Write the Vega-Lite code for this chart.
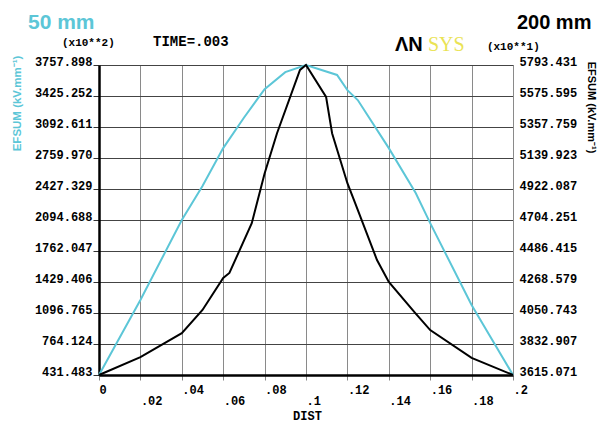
{
  "$schema": "https://vega.github.io/schema/vega-lite/v6.json",
  "width": 414,
  "height": 310,
  "autosize": {"type": "none"},
  "padding": {"left": 99, "top": 65, "right": 92, "bottom": 48},
  "background": "white",
  "config": {"view": {"stroke": "#8a8a8a", "strokeWidth": 1}, "font": "Liberation Mono"},
  "datasets": {
    "d50": [
      {"dist": 0, "efsum": 431.483},
      {"dist": 0.02, "efsum": 1236},
      {"dist": 0.04, "efsum": 2095},
      {"dist": 0.05, "efsum": 2460},
      {"dist": 0.06, "efsum": 2866},
      {"dist": 0.07, "efsum": 3192},
      {"dist": 0.08, "efsum": 3498},
      {"dist": 0.09, "efsum": 3681},
      {"dist": 0.1, "efsum": 3757.898},
      {"dist": 0.115, "efsum": 3651},
      {"dist": 0.12, "efsum": 3488},
      {"dist": 0.125, "efsum": 3382},
      {"dist": 0.14, "efsum": 2866},
      {"dist": 0.153, "efsum": 2384},
      {"dist": 0.16, "efsum": 2061},
      {"dist": 0.18, "efsum": 1183},
      {"dist": 0.2, "efsum": 431.483}
    ],
    "d200": [
      {"dist": 0, "efsum": 3615.071},
      {"dist": 0.02, "efsum": 3741},
      {"dist": 0.04, "efsum": 3909},
      {"dist": 0.05, "efsum": 4072},
      {"dist": 0.06, "efsum": 4297},
      {"dist": 0.063, "efsum": 4332},
      {"dist": 0.0738, "efsum": 4682},
      {"dist": 0.08, "efsum": 5031},
      {"dist": 0.086, "efsum": 5314},
      {"dist": 0.0971, "efsum": 5759},
      {"dist": 0.1, "efsum": 5793.431},
      {"dist": 0.1097, "efsum": 5569},
      {"dist": 0.1126, "efsum": 5314},
      {"dist": 0.12, "efsum": 4963},
      {"dist": 0.1237, "efsum": 4824},
      {"dist": 0.1343, "efsum": 4423},
      {"dist": 0.14, "efsum": 4269},
      {"dist": 0.1527, "efsum": 4051},
      {"dist": 0.16, "efsum": 3931},
      {"dist": 0.18, "efsum": 3735},
      {"dist": 0.2, "efsum": 3615.071}
    ]
  },
  "layer": [
    {
      "layer": [
        {
          "data": {"name": "d50"},
          "mark": {"type": "line", "color": "#5CC6D7", "strokeWidth": 2},
          "encoding": {
            "x": {
              "field": "dist", "type": "quantitative",
              "scale": {"domain": [0, 0.2], "nice": false, "zero": false},
              "axis": {
                "values": [0, 0.02, 0.04, 0.06, 0.08, 0.1, 0.12, 0.14, 0.16, 0.18, 0.2],
                "tickCount": 30,
                "labelExpr": "datum.value == 0 ? '0' : substring(format(datum.value, '.2~f'), 1)",
                "labelAlign": "left", "labelBaseline": "top",
                "labelPadding": {"expr": "round(datum.value*50) % 2 == 1 ? 15 : 4"},
                "labelFont": "Liberation Mono", "labelFontWeight": "bold", "labelFontSize": 12, "labelColor": "black",
                "labelOverlap": false, "labelFlush": false, "labelBound": false,
                "tickSize": 5, "tickColor": "#888", "tickWidth": 1,
                "domainColor": "black", "domainWidth": 2.5,
                "grid": true, "gridColor": "#8a8a8a", "gridWidth": 1, "gridOpacity": 1,
                "title": "DIST", "titleFont": "Liberation Mono", "titleFontWeight": "bold", "titleFontSize": 12, "titleColor": "black",
                "titleX": 208, "titleY": 44, "titleAlign": "center", "titleBaseline": "alphabetic"
              }
            },
            "y": {
              "field": "efsum", "type": "quantitative",
              "scale": {"domain": [431.483, 3757.898], "nice": false, "zero": false},
              "axis": {
                "orient": "left",
                "values": [431.483, 764.124, 1096.765, 1429.406, 1762.047, 2094.688, 2427.329, 2759.970, 3092.611, 3425.252, 3757.898],
                "tickCount": 30,
                "format": ".3f",
                "labelFont": "Liberation Mono", "labelFontWeight": "bold", "labelFontSize": 12, "labelColor": "black",
                "labelBaseline": "alphabetic", "labelPadding": 1,
                "labelOverlap": false, "labelFlush": false, "labelBound": false,
                "tickSize": 6, "tickColor": "#333", "tickWidth": 1,
                "domainColor": "black", "domainWidth": 2.5,
                "grid": true, "gridColor": "#444", "gridWidth": 1, "gridOpacity": 1,
                "title": "EFSUM  (kV.mm⁻¹)", "titleColor": "#5CC6D7", "titleFont": "Liberation Sans", "titleFontWeight": "bold", "titleFontSize": 11.5,
                "titleAngle": -90, "titleX": -82, "titleY": 38, "titleAlign": "center", "titleBaseline": "middle"
              }
            }
          }
        },
        {
          "data": {"values": [{}]},
          "mark": {"type": "text", "text": "50 mm", "font": "Liberation Sans", "fontWeight": "bold", "fontSize": 21, "color": "#5CC6D7", "align": "left", "baseline": "alphabetic"},
          "encoding": {"x": {"datum": -0.0343, "type": "quantitative"}, "y": {"datum": 4144, "type": "quantitative"}}
        },
        {
          "data": {"values": [{}]},
          "mark": {"type": "text", "text": "200 mm", "font": "Liberation Sans", "fontWeight": "bold", "fontSize": 20, "color": "black", "align": "left", "baseline": "alphabetic"},
          "encoding": {"x": {"datum": 0.2019, "type": "quantitative"}, "y": {"datum": 4144, "type": "quantitative"}}
        },
        {
          "data": {"values": [{}]},
          "mark": {"type": "text", "text": "(x10**2)", "font": "Liberation Mono", "fontWeight": "bold", "fontSize": 11, "color": "black", "align": "left", "baseline": "alphabetic"},
          "encoding": {"x": {"datum": -0.0179, "type": "quantitative"}, "y": {"datum": 3962, "type": "quantitative"}}
        },
        {
          "data": {"values": [{}]},
          "mark": {"type": "text", "text": "TIME=.003", "font": "Liberation Mono", "fontWeight": "bold", "fontSize": 14, "color": "black", "align": "left", "baseline": "alphabetic"},
          "encoding": {"x": {"datum": 0.0261, "type": "quantitative"}, "y": {"datum": 3962, "type": "quantitative"}}
        },
        {
          "data": {"values": [{}]},
          "mark": {"type": "text", "text": "ΛN", "font": "Liberation Sans", "fontWeight": "bold", "fontSize": 20, "color": "black", "align": "left", "baseline": "alphabetic"},
          "encoding": {"x": {"datum": 0.143, "type": "quantitative"}, "y": {"datum": 3908, "type": "quantitative"}}
        },
        {
          "data": {"values": [{}]},
          "mark": {"type": "text", "text": "SYS", "font": "Liberation Serif", "fontWeight": "normal", "fontSize": 20, "color": "#EAE355", "align": "left", "baseline": "alphabetic"},
          "encoding": {"x": {"datum": 0.1589, "type": "quantitative"}, "y": {"datum": 3908, "type": "quantitative"}}
        },
        {
          "data": {"values": [{}]},
          "mark": {"type": "text", "text": "(x10**1)", "font": "Liberation Mono", "fontWeight": "bold", "fontSize": 11, "color": "black", "align": "left", "baseline": "alphabetic"},
          "encoding": {"x": {"datum": 0.1874, "type": "quantitative"}, "y": {"datum": 3919, "type": "quantitative"}}
        }
      ]
    },
    {
      "data": {"name": "d200"},
      "mark": {"type": "line", "color": "black", "strokeWidth": 2},
      "encoding": {
        "x": {"field": "dist", "type": "quantitative", "scale": {"domain": [0, 0.2], "nice": false, "zero": false}},
        "y": {
          "field": "efsum", "type": "quantitative",
          "scale": {"domain": [3615.071, 5793.431], "nice": false, "zero": false},
          "axis": {
            "orient": "right",
            "values": [3615.071, 3832.907, 4050.743, 4268.579, 4486.415, 4704.251, 4922.087, 5139.923, 5357.759, 5575.595, 5793.431],
            "tickCount": 30,
            "format": ".3f",
            "labelFont": "Liberation Mono", "labelFontWeight": "bold", "labelFontSize": 12, "labelColor": "black",
            "labelBaseline": "alphabetic", "labelPadding": 6,
            "labelOverlap": false, "labelFlush": false, "labelBound": false,
            "ticks": false, "tickSize": 0,
            "domainColor": "#8a8a8a", "domainWidth": 1,
            "grid": false,
            "title": "EFSUM (kV.mm⁻¹)", "titleColor": "black", "titleFont": "Liberation Sans", "titleFontWeight": "bold", "titleFontSize": 11,
            "titleAngle": 90, "titleX": 77, "titleY": 42, "titleAlign": "center", "titleBaseline": "middle"
          }
        }
      }
    }
  ],
  "resolve": {"scale": {"y": "independent"}}
}
